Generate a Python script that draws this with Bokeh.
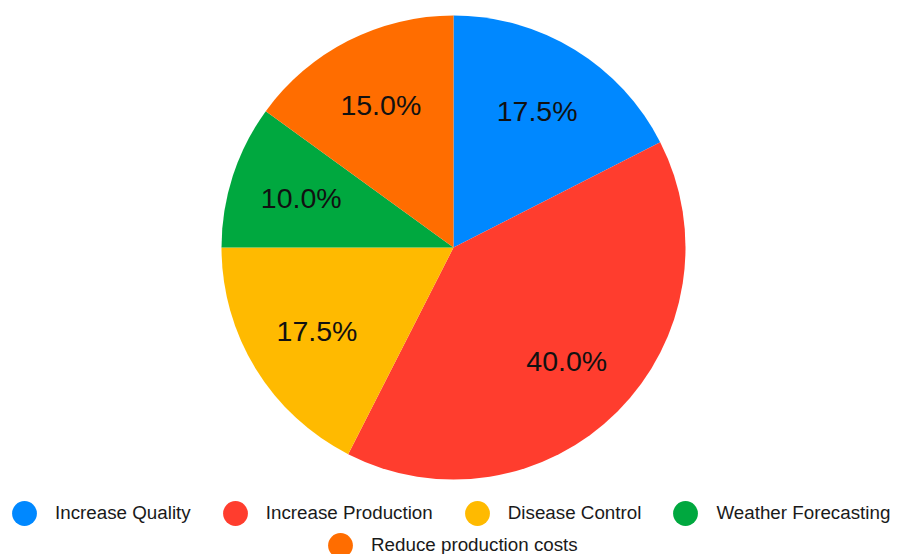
import math

from bokeh.core.properties import value
from bokeh.embed import file_html
from bokeh.models import ColumnDataSource, Legend, LegendItem, Range1d
from bokeh.plotting import figure
from bokeh.resources import INLINE

# Survey shares (%) per purpose, clockwise from 12 o'clock
categories = ["Increase Quality", "Increase Production", "Disease Control",
              "Weather Forecasting", "Reduce production costs"]
shares = [17.5, 40.0, 17.5, 10.0, 15.0]
colors = ["#0088FF", "#FF3D2E", "#FFBA00", "#00A83F", "#FF6D00"]

W, H = 902, 554
CX, CY, R = 453, 307, 232          # pie centre and radius (canvas units)
LABEL_R = 0.69 * R

total = sum(shares)
starts, ends, lx, ly, texts = [], [], [], [], []
acc = 0.0
for s in shares:
    a0 = math.pi / 2 - 2 * math.pi * acc / total
    acc += s
    a1 = math.pi / 2 - 2 * math.pi * acc / total
    mid = (a0 + a1) / 2
    starts.append(a0)
    ends.append(a1)
    lx.append(CX + LABEL_R * math.cos(mid))
    ly.append(CY + LABEL_R * math.sin(mid))
    texts.append(f"{s:.1f}%")

src = ColumnDataSource(dict(cat=categories, share=shares, color=colors,
                            start=starts, end=ends, lx=lx, ly=ly, txt=texts))

p = figure(width=W, height=H, output_backend="svg", toolbar_location=None,
           x_range=Range1d(0, W), y_range=Range1d(0, H),
           x_axis_location=None, y_axis_location=None, min_border=0)
p.grid.visible = False
p.outline_line_color = None
p.background_fill_color = "white"
p.border_fill_color = "white"

p.wedge(x=CX, y=CY, radius=R, start_angle="start", end_angle="end",
        direction="clock", fill_color="color", line_color=None, source=src)

p.text(x="lx", y="ly", text="txt", source=src, text_align="center",
       text_baseline="middle", text_font=value("Liberation Sans"),
       text_font_size="28.5px", text_color="#111111")

# round swatches for the legend (not drawn in the plot area)
swatch_src = ColumnDataSource(dict(x=[float("nan")] * len(categories),
                                   y=[float("nan")] * len(categories),
                                   color=colors))
sw = p.scatter(x="x", y="y", marker="circle", size=10, fill_color="color",
               line_color=None, source=swatch_src)

def make_legend(idx, loc):
    items = [LegendItem(label=value(categories[i]), renderers=[sw], index=i)
             for i in idx]
    lg = Legend(items=items, orientation="horizontal", location=loc,
                glyph_width=62, glyph_height=62, label_standoff=0,
                spacing=13, padding=0, margin=0,
                label_text_font="Liberation Sans", label_text_font_size="18.8px",
                label_text_color="#1a1a1a",
                border_line_color=None, background_fill_alpha=0)
    p.add_layout(lg, "center")

make_legend([0, 1, 2, 3], (-7, 10))
make_legend([4], (309, -22))

open("out.html", "w").write(file_html(p, INLINE))
